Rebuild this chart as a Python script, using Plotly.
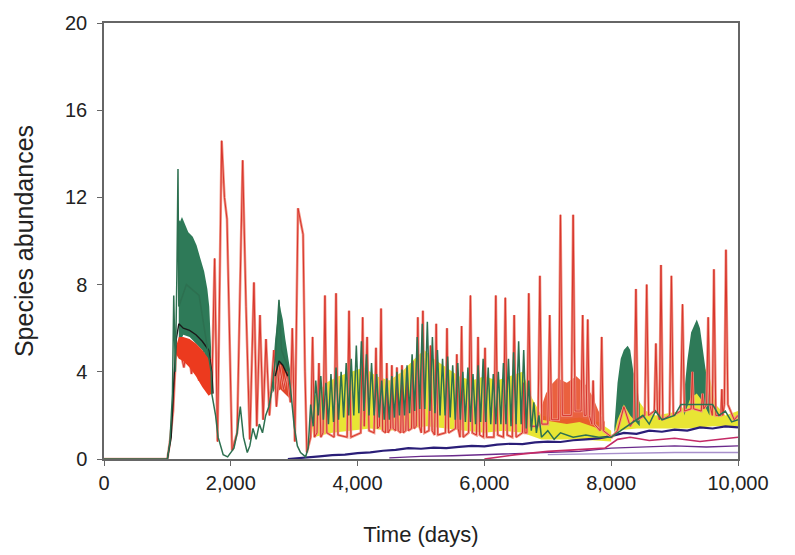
import plotly.graph_objects as go

# ---- species abundance time series (days, abundance) ----
red_t = [0, 1000, 1040, 1090, 1130, 1160, 1200, 1260, 1320, 1380, 1440, 1500, 1560, 1620, 1680,
         1700, 1745, 1790, 1856, 1900, 1940, 1975, 2020, 2100, 2187, 2240, 2300, 2365, 2410, 2460,
         2510, 2555, 2610, 2680, 2720, 2770, 2830, 2890, 2940, 2970, 3010, 3060, 3100, 3140, 3170,
         3200, 3260, 3290, 3320, 3360, 3390, 3420, 3455, 3485, 3515, 3630, 3660, 3690, 3835, 3865,
         3895, 4050, 4080, 4105, 4150, 4180, 4260, 4290, 4315, 4345, 4370, 4395, 4440, 4460, 4480,
         4520, 4540, 4560, 4600, 4620, 4640, 4680, 4700, 4720, 4760, 4780, 4800, 4850, 4870, 4890,
         4925, 4950, 4975, 5005, 5030, 5055, 5125, 5150, 5175, 5215, 5240, 5265, 5385, 5410, 5435,
         5545, 5565, 5585, 5615, 5640, 5665, 5750, 5780, 5810, 5875, 5900, 5925, 5985, 6010, 6035,
         6150, 6180, 6210, 6300, 6330, 6360, 6440, 6470, 6500, 6600, 6620, 6640, 6670, 6700, 6730,
         6845, 6875, 6905, 7000, 7030, 7060, 7170, 7200, 7230, 7370, 7400, 7430, 7525, 7550, 7575,
         7605, 7630, 7655, 7695, 7715, 7735, 7825, 7850, 7875, 8010, 8100, 8200, 8300, 8360, 8390,
         8420, 8530, 8560, 8590, 8680, 8705, 8730, 8760, 8785, 8815, 8920, 8950, 8980, 9095, 9125,
         9155, 9260, 9280, 9300, 9420, 9440, 9460, 9505, 9530, 9555, 9595, 9620, 9650, 9730, 9745,
         9760, 9785, 9810, 9840, 9940, 10000]
red_v = [0, 0, 0.8, 2.2, 4.6, 5.2, 5.0, 4.2, 5.3, 3.9, 5.1, 3.6, 4.9, 3.2, 4.6,
         3.0, 9.2, 0.8, 14.6, 12.0, 11.0, 6.0, 0.4, 1.2, 13.7, 7.0, 0.9, 8.1, 1.5, 6.6,
         1.8, 5.5, 2.0, 5.0, 2.4, 4.3, 3.2, 4.0, 2.6, 6.0, 0.8, 11.5, 10.9, 10.3, 4.0,
         0.3, 1.0, 5.6, 1.0, 1.2, 4.4, 1.0, 1.2, 7.5, 1.2, 1.0, 7.6, 1.1, 1.0, 6.8,
         1.0, 1.2, 6.5, 1.5, 5.6, 1.3, 1.2, 5.1, 1.4, 1.5, 6.9, 1.3, 1.2, 4.4, 1.2,
         1.4, 4.3, 1.4, 1.3, 4.2, 1.3, 1.2, 4.3, 1.2, 1.3, 4.2, 1.3, 1.4, 4.5, 1.4,
         1.5, 6.5, 1.5, 1.2, 6.8, 1.2, 1.3, 5.2, 1.3, 1.1, 6.2, 1.1, 1.2, 6.0, 1.2,
         1.4, 4.8, 1.4, 1.0, 6.1, 1.0, 1.2, 7.5, 1.2, 1.1, 5.6, 1.1, 1.0, 5.1, 1.0,
         1.0, 7.5, 1.1, 1.0, 7.4, 1.1, 1.0, 6.6, 1.0, 1.2, 3.5, 1.2, 1.2, 7.6, 1.5,
         1.5, 8.4, 1.6, 1.6, 6.6, 1.8, 1.8, 11.2, 2.0, 2.0, 11.2, 2.2, 2.2, 6.6, 2.0,
         2.0, 6.4, 2.0, 1.6, 3.6, 1.6, 1.3, 5.6, 1.3, 1.0, 1.3, 2.4, 1.5, 1.8, 7.8,
         1.8, 2.0, 8.0, 2.0, 2.2, 5.3, 2.2, 1.8, 8.9, 1.8, 2.0, 8.4, 2.0, 2.2, 7.1,
         2.2, 2.3, 4.0, 2.3, 2.2, 3.0, 2.3, 2.5, 6.5, 2.5, 2.0, 8.7, 2.0, 2.0, 3.2,
         2.0, 2.5, 9.6, 2.5, 1.8, 2.0]

# dense red oscillation bands (upper edge then lower edge, closed polygons)
red_band1_t = [1140, 1180, 1250, 1350, 1450, 1550, 1650, 1700, 1700, 1650, 1550, 1450, 1350, 1250, 1180, 1140]
red_band1_v = [5.2, 5.6, 5.6, 5.5, 5.3, 5.0, 4.6, 4.0, 3.0, 2.9, 3.3, 3.8, 4.2, 4.5, 4.6, 4.8]
red_band2_t = [2720, 2780, 2850, 2920, 2920, 2850, 2780, 2720]
red_band2_v = [4.0, 4.4, 4.2, 3.6, 2.8, 3.0, 3.2, 3.0]
red_band3_t = [6900, 6970, 7050, 7150, 7300, 7450, 7600, 7700, 7800, 7900, 7900, 7700, 7500, 7300, 7100, 6900]
red_band3_v = [2.4, 3.0, 3.4, 3.7, 3.5, 3.8, 3.4, 2.9, 2.2, 1.7, 1.3, 1.5, 1.7, 1.6, 1.7, 1.8]

# dense green oscillation bands
green_band1_t = [1175, 1200, 1230, 1270, 1330, 1400, 1460, 1520, 1580, 1630, 1660, 1690,
                 1690, 1650, 1550, 1450, 1350, 1250, 1180]
green_band1_v = [11.0, 10.9, 11.1, 10.8, 10.4, 10.2, 9.8, 9.2, 8.6, 7.8, 7.0, 5.0,
                 3.0, 4.4, 5.0, 5.3, 5.6, 5.7, 5.2]
green_band2_t = [2660, 2700, 2740, 2760, 2790, 2820, 2860, 2900, 2940, 2940, 2880, 2800, 2720, 2660]
green_band2_v = [4.0, 5.5, 6.5, 7.3, 6.8, 6.4, 5.5, 4.8, 4.0, 3.0, 3.2, 3.6, 3.4, 3.0]
green_band3_t = [8050, 8100, 8150, 8200, 8260, 8300, 8350, 8400, 8450, 8450, 8300, 8200, 8100, 8050]
green_band3_v = [1.5, 3.5, 4.6, 5.0, 5.2, 5.0, 4.0, 3.5, 2.5, 1.5, 2.0, 2.5, 1.8, 1.2]
green_band4_t = [9150, 9200, 9260, 9320, 9350, 9400, 9450, 9500, 9550, 9550, 9450, 9350, 9250, 9150]
green_band4_v = [3.0, 4.5, 5.8, 6.2, 6.4, 6.0, 5.0, 3.8, 2.8, 2.0, 2.6, 3.0, 2.8, 2.0]

green_t = [0, 1000, 1040, 1080, 1100, 1125, 1150, 1167, 1180, 1300, 1500, 1690, 1700, 1760, 1800,
           1880, 1950, 2050, 2100, 2150, 2200, 2260, 2300, 2350, 2400, 2450, 2500, 2550, 2600, 2650,
           2700, 2760, 2800, 2900, 2950, 3000, 3050, 3100, 3180,
           3220, 3260, 3300, 3340, 3380, 3420, 3460, 3500, 3540, 3580, 3620, 3660, 3700, 3740, 3780,
           3820, 3860, 3900, 3940, 3980, 4020, 4060, 4100, 4140, 4180, 4220, 4260, 4300, 4340, 4380,
           4420, 4460, 4500, 4540, 4580, 4620, 4660, 4700, 4740, 4780, 4820, 4860, 4900, 4940, 4980,
           5020, 5060, 5100, 5140, 5180, 5220, 5260, 5300, 5340, 5380, 5420, 5460, 5500, 5540, 5580,
           5620, 5660, 5700, 5740, 5780, 5820, 5860, 5900, 5940, 5980, 6020, 6060, 6100, 6140, 6180,
           6220, 6260, 6300, 6340, 6380, 6420, 6460, 6500, 6540, 6580, 6620, 6660, 6700, 6740, 6780,
           6820, 6860, 6900, 7000, 7100, 7200, 7400, 7600, 7800, 8000, 8500, 8600, 8700, 8800, 9000,
           9100, 9600, 9700, 9800, 9900, 10000]
green_v = [0, 0, 0.8, 3.0, 7.5, 4.0, 8.5, 13.3, 7.0, 8.0, 7.5, 4.0, 3.0, 2.0, 1.0,
           0.2, 0.1, 0.5, 1.2, 2.4, 1.0, 0.3, 0.6, 1.4, 0.9, 1.6, 1.2, 2.0, 2.4, 3.2,
           4.5, 7.3, 5.0, 4.2, 3.0, 1.5, 0.6, 0.3, 0.1,
           0.5, 2.5, 1.5, 3.6, 2.0, 3.8, 1.8, 3.5, 1.6, 3.9, 1.7, 4.2, 1.8, 4.0, 1.9,
           4.4, 2.0, 4.6, 2.0, 5.2, 2.1, 5.4, 2.2, 4.8, 2.0, 4.4, 2.0, 3.9, 1.9, 3.6,
           1.8, 3.7, 1.8, 3.8, 1.9, 4.0, 2.0, 4.1, 2.0, 4.3, 2.1, 4.8, 2.2, 5.6, 2.3,
           6.2, 2.3, 6.3, 2.2, 5.6, 2.1, 5.0, 2.0, 4.6, 2.0, 4.7, 1.9, 4.3, 1.8, 4.4,
           1.8, 4.0, 1.7, 4.2, 1.7, 3.9, 1.6, 4.3, 1.7, 4.6, 1.7, 4.2, 1.6, 3.9, 1.6,
           4.0, 1.6, 4.4, 1.6, 4.6, 1.5, 4.9, 1.6, 5.4, 1.6, 5.0, 1.4, 3.6, 1.3, 2.6,
           1.2, 2.0, 1.0, 1.3, 0.9, 1.2, 1.0, 1.1, 1.0, 1.0, 2.0, 1.6, 2.2, 1.8, 2.0,
           2.5, 2.5, 2.0, 2.2, 1.7, 1.8]

# dense yellow oscillation bands
yellow_band1_t = [3250, 3300, 3500, 3700, 3900, 4100, 4300, 4500, 4700, 4900, 5050, 5200, 5400, 5600,
                  5800, 6000, 6200, 6400, 6600, 6750, 6900, 7200, 7500, 7800, 8000,
                  8000, 7500, 6900, 6600, 6300, 6000, 5700, 5400, 5100, 4800, 4500, 4200, 3900,
                  3600, 3300]
yellow_band1_v = [2.2, 2.8, 3.5, 3.8, 4.0, 4.2, 3.8, 3.6, 4.0, 4.6, 5.0, 4.6, 4.2, 3.8,
                  3.6, 3.8, 3.6, 3.8, 4.0, 2.8, 2.0, 1.8, 1.9, 1.7, 1.3,
                  0.8, 0.9, 0.9, 1.2, 1.3, 1.2, 1.3, 1.4, 1.5, 1.4, 1.3, 1.4, 1.3,
                  1.2, 1.0]
yellow_band2_t = [8060, 8150, 8250, 8350, 8450, 8550, 8700, 8900, 9100, 9150, 9250, 9350, 9450, 9550,
                  9650, 9800, 10000, 10000, 9600, 9200, 8800, 8400, 8060]
yellow_band2_v = [1.5, 2.8, 3.4, 3.0, 2.6, 2.2, 2.0, 2.1, 2.2, 2.5, 3.5, 4.6, 4.3, 3.8,
                  2.5, 2.0, 2.2, 1.5, 1.5, 1.4, 1.4, 1.4, 1.3]

black_t = [1000, 1060, 1100, 1140, 1180, 1250, 1350, 1450, 1550, 1650, 1700, 1720, None,
           2700, 2760, 2820, 2900]
black_v = [0, 1.0, 3.5, 5.5, 6.2, 6.0, 5.9, 5.7, 5.4, 5.0, 4.0, 3.0, None,
           3.8, 4.5, 4.3, 3.8]

navy_t = [2900, 3000, 3200, 3400, 3600, 3800, 4000, 4200, 4400, 4600, 4800, 5000, 5200, 5400, 5600,
          5800, 6000, 6200, 6400, 6600, 6800, 7000, 7200, 7400, 7600, 7800, 8000, 8200, 8400, 8600,
          8800, 9000, 9200, 9400, 9600, 9800, 10000]
navy_v = [0.0, 0.02, 0.08, 0.12, 0.18, 0.2, 0.27, 0.3, 0.38, 0.42, 0.5, 0.47, 0.52, 0.5, 0.56,
          0.6, 0.58, 0.66, 0.7, 0.68, 0.76, 0.8, 0.78, 0.86, 0.9, 0.95, 1.05, 1.2, 1.15, 1.3,
          1.25, 1.35, 1.3, 1.45, 1.4, 1.5, 1.45]
purple_t = [4500, 5000, 5500, 6000, 6500, 7000, 7500, 8000, 8500, 9000, 9500, 10000]
purple_v = [0.05, 0.12, 0.15, 0.2, 0.25, 0.3, 0.35, 0.5, 0.55, 0.6, 0.55, 0.6]
magenta_t = [6000, 6500, 7000, 7500, 7900, 8100, 8300, 8600, 9000, 9400, 9700, 10000]
magenta_v = [0.0, 0.2, 0.35, 0.45, 0.5, 0.9, 1.0, 0.85, 0.95, 0.8, 0.9, 1.0]
lavender_t = [7000, 8000, 9000, 10000]
lavender_v = [0.2, 0.25, 0.3, 0.3]

x_ticks = [0, 2000, 4000, 6000, 8000, 10000]
x_tick_text = ["0", "2,000", "4,000", "6,000", "8,000", "10,000"]
y_ticks = [0, 4, 8, 12, 16, 20]

FONT = "Liberation Sans, Arial, sans-serif"

fig = go.Figure()


def band(t, v, color, opacity=1.0):
    fig.add_trace(go.Scatter(x=t, y=v, fill="toself", fillcolor=color, mode="lines",
                             line=dict(width=0), opacity=opacity, hoverinfo="skip"))


def line(t, v, color, width):
    fig.add_trace(go.Scatter(x=t, y=v, mode="lines", line=dict(color=color, width=width),
                             hoverinfo="skip"))


band(yellow_band1_t, yellow_band1_v, "#e6e21e", 0.9)
band(yellow_band2_t, yellow_band2_v, "#e6e21e", 0.9)
band(green_band1_t, green_band1_v, "#2e7a58")
band(green_band2_t, green_band2_v, "#2e7a58")
band(green_band3_t, green_band3_v, "#2e7a58")
band(green_band4_t, green_band4_v, "#2e7a58")
band(red_band2_t, red_band2_v, "#e0452a")
band(red_band3_t, red_band3_v, "#e8502a", 0.9)
line(lavender_t, lavender_v, "#a890cc", 1.4)
line(purple_t, purple_v, "#6a2a8c", 1.4)
line(magenta_t, magenta_v, "#c42a66", 1.6)
line(navy_t, navy_v, "#2a1e78", 2.2)
line(red_t, red_v, "#f09484", 2.6)
line(red_t, red_v, "#d8342c", 1.0)
band(red_band1_t, red_band1_v, "#ec3a1e")
line(black_t, black_v, "#1a1a1a", 1.4)
line(green_t, green_v, "#2d7050", 1.5)

axis_common = dict(showline=True, linecolor="#666666", linewidth=1.5, mirror=True,
                   ticks="outside", ticklen=5, tickcolor="#666666", tickwidth=1,
                   showgrid=False, zeroline=False,
                   tickfont=dict(family=FONT, size=20, color="#222222"))

fig.update_layout(
    width=795, height=555,
    margin=dict(l=104, r=57, t=18, b=95),
    paper_bgcolor="white", plot_bgcolor="white",
    showlegend=False,
    xaxis=dict(range=[0, 10000], tickvals=x_ticks, ticktext=x_tick_text,
               title=dict(text="Time (days)", standoff=34,
                          font=dict(family=FONT, size=22, color="#222222")),
               **axis_common),
    yaxis=dict(range=[0, 20], tickvals=y_ticks, ticklabelstandoff=6,
               title=dict(text="Species abundances", standoff=24,
                          font=dict(family=FONT, size=25, color="#222222")),
               **axis_common),
)

fig.write_html("out.html")
